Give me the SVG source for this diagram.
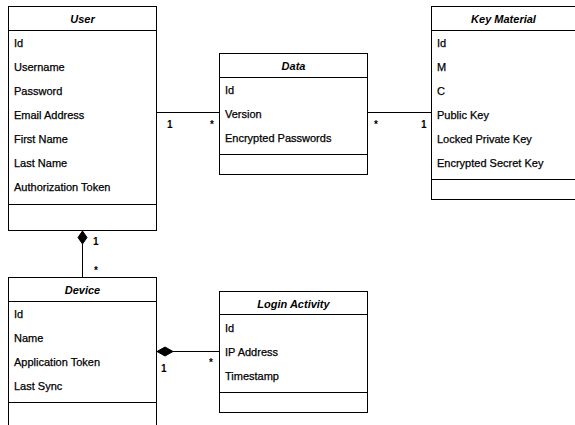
<svg xmlns="http://www.w3.org/2000/svg" width="575" height="425" viewBox="0 0 575 425">
  <style>
    .box { fill: #ffffff; stroke: #000000; stroke-width: 1; }
    .sep { stroke: #000000; stroke-width: 1; fill: none; }
    .title { font-family: "Liberation Sans", Arial, sans-serif; font-size: 11px; font-weight: bold; font-style: italic; fill: #000000; text-anchor: middle; }
    .attr { font-family: "Liberation Sans", Arial, sans-serif; font-size: 11px; fill: #000000; stroke: #000000; stroke-width: 0.25; }
    .edge { stroke: #000000; stroke-width: 1; fill: none; }
    .mult { font-family: "Liberation Sans", Arial, sans-serif; font-size: 10px; font-weight: bold; fill: #000000; }
    .diamond { fill: #000000; stroke: #000000; stroke-width: 1; }
  </style>
  <rect width="575" height="425" fill="#ffffff"/>

  <g id="connectors">
    <!-- User 1 — * Data -->
    <line class="edge" x1="156.5" y1="112.5" x2="219.5" y2="112.5"/>
    <text class="mult" x="167" y="128">1</text>
    <text class="mult" x="210" y="128">*</text>
    <!-- Data * — 1 Key Material -->
    <line class="edge" x1="367.5" y1="112.5" x2="431.5" y2="112.5"/>
    <text class="mult" x="374" y="128">*</text>
    <text class="mult" x="421" y="128">1</text>
    <!-- User ◆1 — * Device -->
    <line class="edge" x1="82.5" y1="244" x2="82.5" y2="277.5"/>
    <polygon class="diamond" points="82.5,231 87,237.5 82.5,244 78,237.5"/>
    <text class="mult" x="93" y="245">1</text>
    <text class="mult" x="94" y="274">*</text>
    <!-- Device ◆1 — * Login Activity -->
    <line class="edge" x1="173" y1="351.5" x2="219.5" y2="351.5"/>
    <polygon class="diamond" points="157,351.5 165,347 173,351.5 165,356"/>
    <text class="mult" x="161" y="372">1</text>
    <text class="mult" x="209" y="366">*</text>
  </g>

  <g id="user">
    <rect class="box" x="8.5" y="6.5" width="148" height="224"/>
    <line class="sep" x1="8.5" y1="30.5" x2="156.5" y2="30.5"/>
    <line class="sep" x1="8.5" y1="204.5" x2="156.5" y2="204.5"/>
    <text class="title" x="82.5" y="23">User</text>
    <text class="attr" x="14" y="47">Id</text>
    <text class="attr" x="14" y="71">Username</text>
    <text class="attr" x="14" y="95">Password</text>
    <text class="attr" x="14" y="119">Email Address</text>
    <text class="attr" x="14" y="143">First Name</text>
    <text class="attr" x="14" y="167">Last Name</text>
    <text class="attr" x="14" y="191">Authorization Token</text>
  </g>

  <g id="data">
    <rect class="box" x="219.5" y="53.5" width="148" height="121"/>
    <line class="sep" x1="219.5" y1="77.5" x2="367.5" y2="77.5"/>
    <line class="sep" x1="219.5" y1="154.5" x2="367.5" y2="154.5"/>
    <text class="title" x="293.5" y="69.5">Data</text>
    <text class="attr" x="225" y="93.5">Id</text>
    <text class="attr" x="225" y="117.5">Version</text>
    <text class="attr" x="225" y="141.5">Encrypted Passwords</text>
  </g>

  <g id="key-material">
    <rect class="box" x="431.5" y="6.5" width="148" height="193"/>
    <line class="sep" x1="431.5" y1="30.5" x2="579.5" y2="30.5"/>
    <line class="sep" x1="431.5" y1="179.5" x2="579.5" y2="179.5"/>
    <text class="title" x="503.5" y="23">Key Material</text>
    <text class="attr" x="437" y="47">Id</text>
    <text class="attr" x="437" y="71">M</text>
    <text class="attr" x="437" y="95">C</text>
    <text class="attr" x="437" y="119">Public Key</text>
    <text class="attr" x="437" y="143">Locked Private Key</text>
    <text class="attr" x="437" y="167">Encrypted Secret Key</text>
  </g>

  <g id="device">
    <rect class="box" x="8.5" y="277.5" width="148" height="160"/>
    <line class="sep" x1="8.5" y1="301.5" x2="156.5" y2="301.5"/>
    <line class="sep" x1="8.5" y1="402.5" x2="156.5" y2="402.5"/>
    <text class="title" x="82.5" y="293.5">Device</text>
    <text class="attr" x="14" y="318">Id</text>
    <text class="attr" x="14" y="342">Name</text>
    <text class="attr" x="14" y="366">Application Token</text>
    <text class="attr" x="14" y="390">Last Sync</text>
  </g>

  <g id="login-activity">
    <rect class="box" x="219.5" y="291.5" width="148" height="121"/>
    <line class="sep" x1="219.5" y1="314.5" x2="367.5" y2="314.5"/>
    <line class="sep" x1="219.5" y1="392.5" x2="367.5" y2="392.5"/>
    <text class="title" x="293.5" y="307.5">Login Activity</text>
    <text class="attr" x="225" y="331.5">Id</text>
    <text class="attr" x="225" y="355.5">IP Address</text>
    <text class="attr" x="225" y="379.5">Timestamp</text>
  </g>
</svg>
